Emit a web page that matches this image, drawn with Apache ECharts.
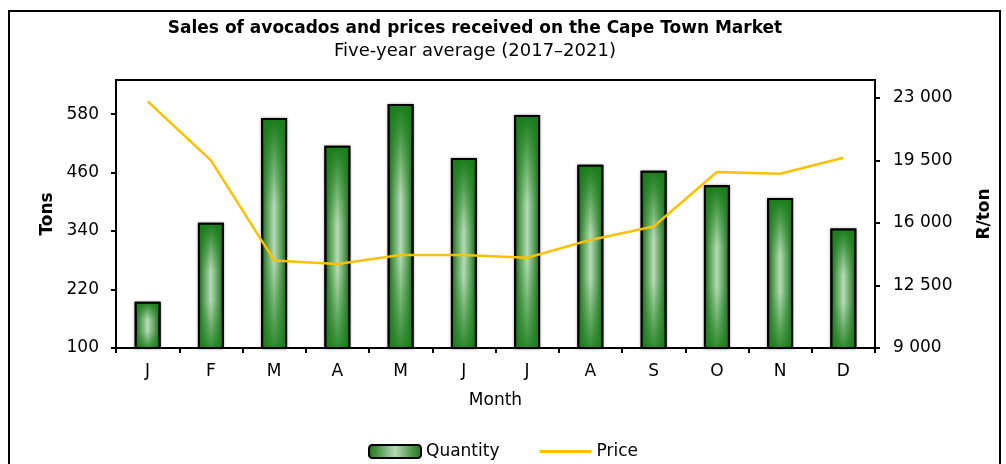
<!DOCTYPE html>
<html>
<head>
<meta charset="utf-8">
<script src="https://cdn.jsdelivr.net/npm/echarts@6/dist/echarts.min.js"></script>
<style>
  html, body { margin: 0; padding: 0; background: #fff; }
  #chart { width: 1006px; height: 464px; }
</style>
</head>
<body>
<div id="chart"></div>
<script>
// chart data
const months = ['J', 'F', 'M', 'A', 'M', 'J', 'J', 'A', 'S', 'O', 'N', 'D']
const quantity = [195, 357, 572, 515, 601, 490, 578, 476, 464, 434, 408, 345]
const price = [22800, 19500, 13900, 13700, 14200, 14200, 14050, 15050, 15800, 18850, 18750, 19650]
const tonsTicks = [100, 220, 340, 460, 580]
const priceTicks = [9000, 12500, 16000, 19500, 23000]

const font = 'DejaVu Sans, Verdana, sans-serif'

// horizontal shading of the bars: dark edges, light middle
const barFill = {
  type: 'linear', x: 0, y: 0, x2: 1, y2: 0,
  colorStops: [
    { offset: 0, color: '#1c761c' },
    { offset: 0.18, color: '#4a954a' },
    { offset: 0.5, color: '#b6dbb6' },
    { offset: 0.82, color: '#4a954a' },
    { offset: 1, color: '#1c761c' }
  ]
}
// vertical darkening laid over it (top and bottom)
const barShade = {
  type: 'linear', x: 0, y: 0, x2: 0, y2: 1,
  colorStops: [
    { offset: 0, color: 'rgba(24,124,24,1)' },
    { offset: 0.1, color: 'rgba(24,124,24,0.75)' },
    { offset: 0.38, color: 'rgba(24,124,24,0)' },
    { offset: 0.62, color: 'rgba(24,124,24,0)' },
    { offset: 1, color: 'rgba(24,124,24,0.85)' }
  ]
}

const fmtSpace = v => String(v).replace(/\B(?=(\d{3})+(?!\d))/g, ' ')

const myChart = echarts.init(document.getElementById('chart'))
const option = {
  animation: false,
  textStyle: { fontFamily: font, color: '#000' },
  title: {
    text: 'Sales of avocados and prices received on the Cape Town Market',
    subtext: 'Five-year average (2017–2021)',
    left: 475,
    textAlign: 'center',
    top: 20,
    itemGap: 5,
    padding: 0,
    textStyle: { fontFamily: font, fontSize: 17, fontWeight: 'bold', color: '#000' },
    subtextStyle: { fontFamily: font, fontSize: 18, color: '#000' }
  },
  graphic: [
    {
      type: 'rect',
      shape: { x: 9, y: 11, width: 991, height: 520 },
      style: { fill: 'none', stroke: '#000', lineWidth: 2 },
      silent: true
    }
  ],
  legend: {
    bottom: -1,
    left: 363,
    itemWidth: 52,
    itemHeight: 13,
    itemGap: 40,
    textStyle: { fontFamily: font, fontSize: 17, color: '#000' },
    data: [
      { name: 'Quantity', itemStyle: { borderColor: '#000', borderWidth: 2 } },
      { name: 'Price', icon: 'path://M0,0H52V3H0Z', itemStyle: { color: '#ffc000' } }
    ]
  },
  grid: {
    left: 116, right: 131, top: 80, bottom: 116,
    show: true, borderColor: '#000', borderWidth: 2
  },
  xAxis: {
    type: 'category',
    data: months,
    name: 'Month',
    nameLocation: 'middle',
    nameGap: 44,
    nameTextStyle: { fontFamily: font, fontSize: 17, color: '#000' },
    axisLine: { lineStyle: { color: '#000', width: 2 } },
    axisTick: { show: true, length: 5, lineStyle: { color: '#000', width: 2 } },
    axisLabel: { fontFamily: font, fontSize: 17, color: '#000', margin: 15 },
    splitLine: { show: false }
  },
  yAxis: [
    {
      type: 'value',
      min: 100, max: 650, interval: 120,
      name: 'Tons',
      nameLocation: 'middle',
      nameRotate: 90,
      nameGap: 59,
      nameTextStyle: { fontFamily: font, fontSize: 17, fontWeight: 'bold', color: '#000' },
      axisLine: { show: true, lineStyle: { color: '#000', width: 2 } },
      axisTick: { show: true, length: 5, customValues: tonsTicks, lineStyle: { color: '#000', width: 2 } },
      axisLabel: { fontFamily: font, fontSize: 17, color: '#000', margin: 17, customValues: tonsTicks },
      splitLine: { show: false }
    },
    {
      type: 'value',
      min: 9000, max: 24000, interval: 3500,
      position: 'right',
      name: 'R/ton',
      nameLocation: 'middle',
      nameRotate: 90,
      nameGap: 101,
      nameTextStyle: { fontFamily: font, fontSize: 17, fontWeight: 'bold', color: '#000' },
      axisLine: { show: true, lineStyle: { color: '#000', width: 2 } },
      axisTick: { show: true, length: 5, customValues: priceTicks, lineStyle: { color: '#000', width: 2 } },
      axisLabel: { fontFamily: font, fontSize: 17, color: '#000', margin: 18, customValues: priceTicks, formatter: fmtSpace },
      splitLine: { show: false }
    }
  ],
  series: [
    {
      name: 'Quantity',
      type: 'bar',
      yAxisIndex: 0,
      barWidth: '41%',
      data: quantity,
      itemStyle: {
        color: barFill,
        borderColor: '#000',
        borderWidth: 2,
        shadowBlur: 3,
        shadowColor: 'rgba(0,0,0,0.35)'
      }
    },
    {
      name: 'shade',
      type: 'bar',
      yAxisIndex: 0,
      barWidth: '41%',
      barGap: '-100%',
      data: quantity,
      silent: true,
      itemStyle: { color: barShade, borderColor: '#000', borderWidth: 2 }
    },
    {
      name: 'Price',
      type: 'line',
      yAxisIndex: 1,
      data: price,
      symbol: 'none',
      z: 5,
      lineStyle: { color: '#ffc000', width: 2.5 },
      itemStyle: { color: '#ffc000' }
    }
  ]
}
myChart.setOption(option)
</script>
</body>
</html>
